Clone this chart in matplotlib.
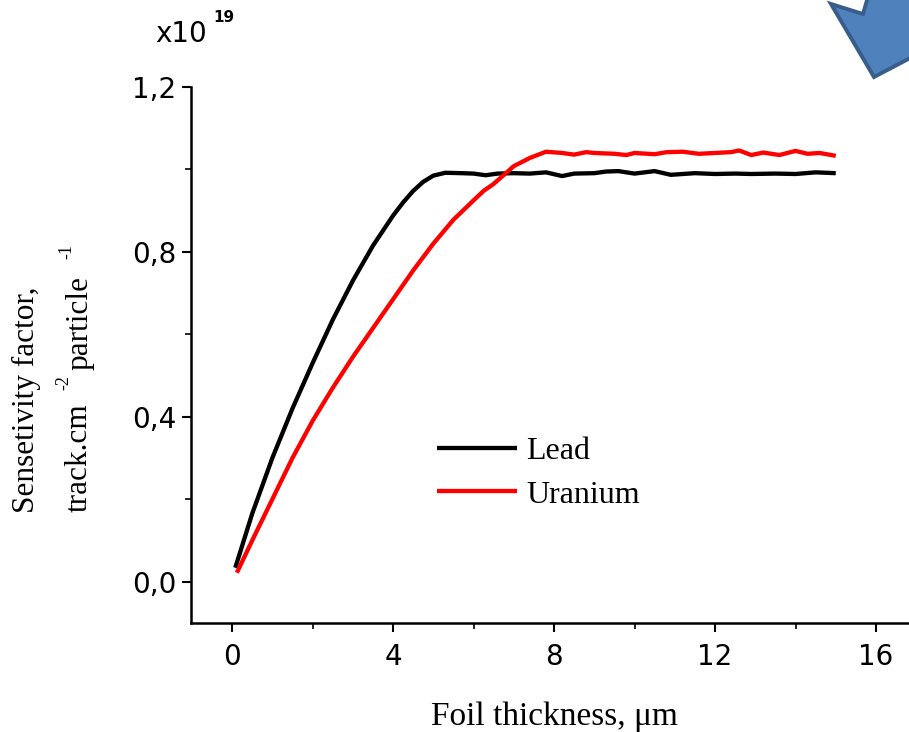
import matplotlib
matplotlib.use("Agg")
import matplotlib.pyplot as plt
from matplotlib.patches import Polygon
from matplotlib.ticker import MultipleLocator, FuncFormatter

# ---- data ----
lead_x = [0.08, 0.5, 1.0, 1.5, 2.0, 2.5, 3.0, 3.5, 4.0, 4.25, 4.5, 4.75, 5.0, 5.3, 5.7,
          6.0, 6.3, 6.6, 7.0, 7.4, 7.8, 8.2, 8.5, 9.0, 9.3, 9.6, 10.0, 10.5,
          10.9, 11.5, 12.0, 12.5, 12.9, 13.5, 14.0, 14.5, 15.0]
lead_y = [0.034, 0.165, 0.30, 0.42, 0.53, 0.635, 0.73, 0.815, 0.888, 0.92, 0.948,
          0.970, 0.985, 0.992, 0.991, 0.990, 0.986, 0.990, 0.991, 0.990, 0.993,
          0.984, 0.990, 0.991, 0.995, 0.996, 0.990, 0.996, 0.987, 0.991, 0.989,
          0.990, 0.989, 0.990, 0.989, 0.993, 0.991]

uran_x = [0.12, 0.5, 1.0, 1.5, 2.0, 2.5, 3.0, 3.5, 4.0, 4.5, 5.0, 5.5, 6.0,
          6.25, 6.5, 7.0, 7.4, 7.8, 8.2, 8.5, 8.8, 9.0, 9.5, 9.8, 10.0, 10.5,
          10.8, 11.2, 11.6, 12.0, 12.4, 12.6, 12.9, 13.2, 13.6, 14.0, 14.3,
          14.6, 15.0]
uran_y = [0.022, 0.10, 0.20, 0.30, 0.39, 0.47, 0.545, 0.615, 0.685, 0.755,
          0.82, 0.878, 0.925, 0.948, 0.965, 1.008, 1.028, 1.043, 1.040, 1.036,
          1.042, 1.040, 1.038, 1.035, 1.040, 1.037, 1.042, 1.043, 1.038, 1.040,
          1.042, 1.046, 1.035, 1.041, 1.035, 1.045, 1.038, 1.040, 1.033]

series_names = ["Lead", "Uranium"]
x_ticks = [0, 4, 8, 12, 16]
y_ticks = [0.0, 0.4, 0.8, 1.2]

W, H = 909, 732
fig = plt.figure(figsize=(W / 100, H / 100), dpi=100)
ax = fig.add_axes([191 / W, 1 - 623 / H, (W - 191) / W, (623 - 87) / H])

sans = "DejaVu Sans"
serif = "Liberation Serif"

l1, = ax.plot(lead_x, lead_y, color="black", lw=3.1, solid_capstyle="butt",
              solid_joinstyle="round")
l2, = ax.plot(uran_x, uran_y, color="#ff0000", lw=3.1, solid_capstyle="butt",
              solid_joinstyle="round")

ax.set_xlim(-1.02, 16.82)
ax.set_ylim(-0.1, 1.2)
ax.set_xticks(x_ticks)
ax.set_yticks(y_ticks)
ax.xaxis.set_minor_locator(MultipleLocator(2))
ax.yaxis.set_minor_locator(MultipleLocator(0.2))
ax.yaxis.set_major_formatter(FuncFormatter(lambda v, p: f"{v:.1f}".replace(".", ",")))

for s in ["top", "right"]:
    ax.spines[s].set_visible(False)
for s in ["left", "bottom"]:
    ax.spines[s].set_linewidth(1.8)

ax.tick_params(which="major", direction="out", length=6.5, width=1.5,
               labelsize=20, pad=4)
ax.tick_params(axis="x", which="major", pad=8)
ax.tick_params(which="minor", direction="out", length=4, width=1.2)
for lab in ax.get_xticklabels() + ax.get_yticklabels():
    lab.set_fontfamily(sans)

# exponent label
fig.text(155 / W, 1 - 42 / H, "x10", fontsize=20, family=sans, va="baseline", ha="left")
fig.text(213 / W, 1 - 22 / H, "19", fontsize=11, family=sans, weight="bold",
         va="baseline", ha="left")

# axis labels
fig.text(554 / W, 1 - 717 / H, "Foil thickness, \u03bcm", fontsize=24, family=serif,
         ha="center", va="center")
fig.text(26 / W, 1 - 400 / H, "Sensetivity factor,", fontsize=22.5, family=serif,
         rotation=90, ha="center", va="center")
fig.text(79 / W, 1 - 512 / H, "track.cm", fontsize=22.5, family=serif,
         rotation=90, ha="center", va="bottom")
fig.text(64 / W, 1 - 390 / H, "-2", fontsize=13, family=serif,
         rotation=90, ha="center", va="bottom")
fig.text(80 / W, 1 - 370 / H, "particle", fontsize=22.5, family=serif,
         rotation=90, ha="center", va="bottom")
fig.text(67 / W, 1 - 259 / H, "-1", fontsize=13, family=serif,
         rotation=90, ha="center", va="bottom")

# legend
leg = ax.legend([l1, l2], series_names, frameon=False, loc="center left",
                bbox_to_anchor=(437 / W, 1 - 473 / H), bbox_transform=fig.transFigure,
                prop={"family": serif, "size": 23}, handlelength=2.5,
                handletextpad=0.3, labelspacing=0.45, borderpad=0, borderaxespad=0)

# decorative arrow in the top-right corner
pts = [(874, 77), (831, 4), (863, 14), (870, -10), (935, -10), (935, 45)]
arrow = Polygon([(x / W, 1 - y / H) for x, y in pts], closed=True,
                transform=fig.transFigure, facecolor="#4F81BD", edgecolor="#385D8A",
                lw=2.8, clip_on=False)
fig.patches.append(arrow)

fig.savefig("out.png", dpi=100)
